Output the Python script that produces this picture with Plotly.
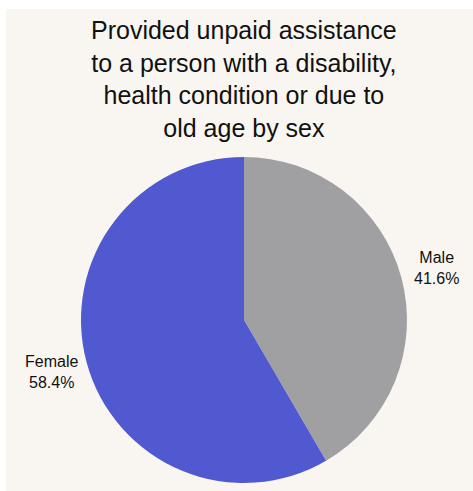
import math
import plotly.graph_objects as go

# Share of people who provided unpaid assistance, by sex (%)
sexes = ["Male", "Female"]
shares = [41.6, 58.4]
slice_colors = ["#a0a0a3", "#5059cf"]

title_lines = [
    "Provided unpaid assistance",
    "to a person with a disability,",
    "health condition or due to",
    "old age by sex",
]

FONT = "Liberation Sans, Arial, sans-serif"
W, H = 473, 491
ml, mr, mt, mb = 81, 66, 157, 8
pw, ph = W - ml - mr, H - mt - mb

fig = go.Figure(go.Pie(
    labels=sexes,
    values=shares,
    marker=dict(colors=slice_colors, line=dict(width=0)),
    sort=False,
    direction="clockwise",
    rotation=0,
    textposition="none",
    hoverinfo="label+percent",
    showlegend=False,
))

# Slice labels placed outside the pie, centred on each slice's mid-angle
total = sum(shares)
start = 0.0
label_radius = 1.225  # in units of the pie radius
for name, value in zip(sexes, shares):
    mid = (start + value / 2) / total * 2 * math.pi
    start += value
    fig.add_annotation(
        text=f"{name}<br>{value:.1f}%",
        xref="paper", yref="paper",
        x=0.5 + 0.5 * label_radius * math.sin(mid),
        y=0.5 + 0.5 * label_radius * math.cos(mid),
        xanchor="center", yanchor="middle",
        showarrow=False,
        font=dict(family=FONT, size=16, color="#111111"),
    )

# Chart title
fig.add_annotation(
    text="<br>".join(title_lines),
    xref="paper", yref="paper",
    x=0.5, y=(H - mb - 79) / ph,
    xanchor="center", yanchor="middle",
    showarrow=False,
    font=dict(family=FONT, size=25, color="#111111"),
)

# Beige panel behind the chart, leaving a thin white strip on the left and top
fig.add_shape(
    type="rect", xref="paper", yref="paper", layer="below",
    x0=(6 - ml) / pw, x1=(W + 5 - ml) / pw,
    y0=-(mb + 5) / ph, y1=(H - 9 - mb) / ph,
    fillcolor="#f9f6f1", line=dict(width=0),
)

fig.update_layout(
    width=W, height=H,
    margin=dict(l=ml, r=mr, t=mt, b=mb),
    paper_bgcolor="#ffffff",
)

fig.write_html("out.html")
